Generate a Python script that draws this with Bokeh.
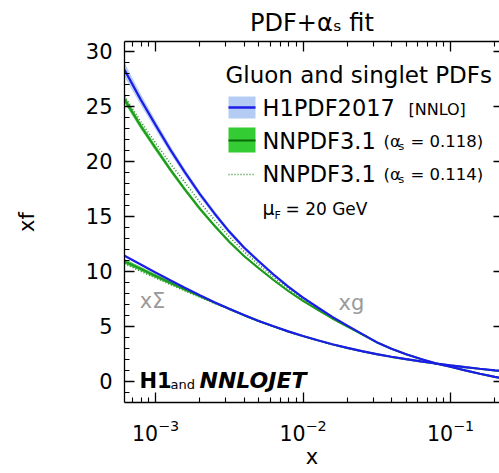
import numpy as np
from bokeh.plotting import figure
from bokeh.models import Range1d, LogAxis, LinearAxis, FixedTicker, Label, LogScale
from bokeh.embed import file_html
from bokeh.resources import INLINE

# ---------------- data ----------------
x_grid = [6.17e-4, 7.94e-4, 1.0e-3, 1.26e-3, 1.58e-3, 2.0e-3, 2.51e-3, 3.16e-3, 3.98e-3,
          5.01e-3, 6.31e-3, 7.94e-3, 1.0e-2, 1.26e-2, 1.58e-2, 2.0e-2, 2.51e-2, 3.16e-2,
          3.98e-2, 5.01e-2, 6.31e-2, 7.94e-2, 0.1, 0.126, 0.158, 0.2, 0.215]

h1_gluon = [28.3, 25.6, 23.3, 21.05, 19.0, 17.0, 15.25, 13.6, 12.15,
            10.9, 9.7, 8.6, 7.6, 6.7, 5.85, 5.05, 4.3, 3.55,
            2.95, 2.45, 2.02, 1.62, 1.31, 0.98, 0.68, 0.40, 0.32]
h1_gluon_err = [0.65, 0.5, 0.42, 0.36, 0.31, 0.27, 0.24, 0.21, 0.19,
                0.17, 0.15, 0.13, 0.12, 0.11, 0.1, 0.09, 0.08, 0.07,
                0.06, 0.06, 0.05, 0.05, 0.05, 0.05, 0.05, 0.05, 0.05]
nn118_gluon = [25.6, 23.2, 21.2, 19.24, 17.44, 15.67, 14.14, 12.68, 11.38,
               10.27, 9.2, 8.2, 7.3, 6.48, 5.7, 4.96, 4.26, 3.53,
               2.94, 2.44, 2.01, 1.61, 1.30, 0.97, 0.67, 0.39, 0.31]
nn118_gluon_err = [0.32, 0.28, 0.25, 0.22, 0.2, 0.18, 0.16, 0.14, 0.12,
                   0.11, 0.1, 0.09, 0.08, 0.07, 0.06, 0.05, 0.05, 0.04,
                   0.04, 0.03, 0.03, 0.03, 0.03, 0.03, 0.03, 0.03, 0.03]
nn114_gluon = [25.9, 23.6, 21.67, 19.79, 18.09, 16.27, 14.67, 13.14, 11.79,
               10.59, 9.46, 8.41, 7.45, 6.58, 5.76, 5.0, 4.28, 3.55,
               2.95, 2.45, 2.02, 1.62, 1.31, 0.98, 0.68, 0.40, 0.32]

h1_singlet = [11.4, 10.61, 9.89, 9.18, 8.49, 7.82, 7.18, 6.58, 6.01,
              5.48, 4.99, 4.53, 4.11, 3.72, 3.36, 3.03, 2.73, 2.46,
              2.22, 2.0, 1.80, 1.61, 1.44, 1.28, 1.13, 0.99, 0.95]
nn118_singlet = [10.9, 10.21, 9.57, 8.95, 8.34, 7.73, 7.14, 6.57, 6.0,
                 5.47, 4.98, 4.52, 4.1, 3.71, 3.35, 3.02, 2.72, 2.45,
                 2.21, 1.99, 1.79, 1.6, 1.43, 1.27, 1.12, 0.98, 0.94]
nn118_singlet_err = [0.22, 0.2, 0.18, 0.16, 0.14, 0.12, 0.11, 0.1, 0.09,
                     0.08, 0.07, 0.06, 0.06, 0.05, 0.05, 0.04, 0.04, 0.04,
                     0.03, 0.03, 0.03, 0.03, 0.03, 0.03, 0.03, 0.03, 0.03]
nn114_singlet = [10.7, 10.0, 9.4, 8.8, 8.22, 7.65, 7.09, 6.54, 5.99,
                 5.46, 4.97, 4.51, 4.09, 3.7, 3.34, 3.01, 2.71, 2.44,
                 2.2, 1.98, 1.78, 1.59, 1.42, 1.26, 1.11, 0.97, 0.93]

x_major_ticks = [1e-3, 1e-2, 1e-1]
y_major_ticks = [0, 5, 10, 15, 20, 25, 30]

# ---------------- layout calibration ----------------
W, H = 499, 473
FL, FR, FT, FB = 124, 499, 41, 402
FONT = "DejaVu Sans"
BLUE = "#1c1ce8"
BLUE_BAND = "#b4cbf3"
GREEN = "#1f9a1f"
GREEN_BAND = "#3fca3f"
GREEN_DOT = "#2b8f2b"


def px_to_x(px):
    return 10 ** (-3 + (px - 155) / 147.5)


def py_to_y(py):
    return (380.7 - py) / 11.0


x0, x1 = px_to_x(FL), px_to_x(FR)
y0, y1 = py_to_y(FB), py_to_y(FT)

p = figure(width=W, height=H, x_axis_type=None, y_axis_type=None,
           x_range=Range1d(x0, x1), y_range=Range1d(y0, y1),
           output_backend="svg", toolbar_location=None,
           min_border_left=FL, min_border_right=0,
           min_border_top=FT, min_border_bottom=H - FB,
           title="PDF+αₛ fit")
p.x_scale = LogScale()
p.outline_line_color = None
p.background_fill_color = "white"
p.border_fill_color = "white"
p.title.text_font = FONT
p.title.text_font_size = "24px"
p.title.text_font_style = "normal"
p.title.text_color = "black"
p.title.align = "center"
p.title.standoff = 10
p.title.offset = 0

minor_x = [m * 10.0 ** e for e in (-4, -3, -2, -1) for m in range(2, 10)]
minor_y = [v for v in range(-1, 31) if v % 5 != 0]


def style_axis(ax, labels=True, tick_in=10, minor_in=5):
    ax.axis_line_color = "black"
    ax.axis_line_width = 1.3
    ax.major_tick_in = tick_in
    ax.major_tick_out = 0
    ax.minor_tick_in = minor_in
    ax.minor_tick_out = 0
    ax.major_tick_line_width = 1.3
    ax.minor_tick_line_width = 1.1
    ax.major_label_text_font = FONT
    ax.major_label_text_font_size = "20.5px"
    ax.major_label_text_color = "black"
    ax.axis_label_text_font = FONT
    ax.axis_label_text_font_size = "21px"
    ax.axis_label_text_font_style = "normal"
    ax.axis_label_text_color = "black"
    if not labels:
        ax.major_label_text_font_size = "0px"
        ax.major_label_text_alpha = 0
        ax.major_label_standoff = 0


xb = LogAxis(ticker=FixedTicker(ticks=x_major_ticks, minor_ticks=minor_x), axis_label="x")
style_axis(xb)
xb.major_label_standoff = 16
xb.axis_label_standoff = 1
p.add_layout(xb, "below")

xt = LogAxis(ticker=FixedTicker(ticks=x_major_ticks, minor_ticks=minor_x))
style_axis(xt, labels=False)
p.add_layout(xt, "above")

yl = LinearAxis(ticker=FixedTicker(ticks=y_major_ticks, minor_ticks=minor_y), axis_label="xf")
style_axis(yl)
yl.major_label_text_font_size = "21px"
yl.major_label_standoff = 12
yl.axis_label_standoff = 44
p.add_layout(yl, "left")

yr = LinearAxis(ticker=FixedTicker(ticks=y_major_ticks, minor_ticks=minor_y))
style_axis(yr, labels=False, tick_in=6, minor_in=0)
yr.axis_line_color = None
p.add_layout(yr, "right")

# ---------------- curves ----------------
xg = np.array(x_grid)
g_nn = np.array(nn118_gluon)
g_nne = np.array(nn118_gluon_err)
g_h1 = np.array(h1_gluon)
g_h1e = np.array(h1_gluon_err)
s_nn = np.array(nn118_singlet)
s_nne = np.array(nn118_singlet_err)

p.varea(x=xg, y1=g_h1 - g_h1e, y2=g_h1 + g_h1e, fill_color=BLUE_BAND, fill_alpha=0.9)
p.varea(x=xg, y1=g_nn - g_nne, y2=g_nn + g_nne, fill_color=GREEN_BAND, fill_alpha=0.9)
p.varea(x=xg, y1=s_nn - s_nne, y2=s_nn + s_nne, fill_color=GREEN_BAND, fill_alpha=0.9)

p.line(x_grid, nn114_gluon, line_color=GREEN_DOT, line_width=1.6, line_dash="1 2")
p.line(x_grid, nn114_singlet, line_color=GREEN_DOT, line_width=1.8, line_dash="1 2")
p.line(x_grid, nn118_gluon, line_color=GREEN, line_width=2)
p.line(x_grid, nn118_singlet, line_color=GREEN, line_width=2)
p.line(x_grid, h1_gluon, line_color=BLUE, line_width=2.2)
p.line(x_grid, h1_singlet, line_color=BLUE, line_width=2.2)


# ---------------- texts ----------------
def lbl(text, px, py, size, style="normal", color="black", align="left"):
    p.add_layout(Label(x=px_to_x(px), y=py_to_y(py), text=text, text_font=FONT,
                       text_font_size=f"{size}px", text_font_style=style,
                       text_color=color, text_align=align, text_baseline="middle"))


# legend
lbl("Gluon and singlet PDFs", 225, 74, 23)
lbl("H1PDF2017", 262, 107, 22.5)
lbl("[NNLO]", 408, 109, 16)
for py, a in ((140, "0.118"), (173, "0.114")):
    lbl("NNPDF3.1", 262, py, 22.5)
    lbl("(α", 383, py + 1, 16.5)
    lbl("s", 398, py + 6, 11)
    lbl(f"= {a})", 410, py + 1, 16.5)
lbl("μ", 262, 207, 19)
lbl("F", 274, 215, 11)
lbl("= 20 GeV", 285, 208, 17)

# swatches
p.quad(left=[px_to_x(228)], right=[px_to_x(255)], bottom=[py_to_y(118)], top=[py_to_y(96)],
       fill_color=BLUE_BAND, line_color=None)
p.line([px_to_x(228), px_to_x(255)], [py_to_y(107)] * 2, line_color=BLUE, line_width=2.5)
p.quad(left=[px_to_x(228)], right=[px_to_x(255)], bottom=[py_to_y(152)], top=[py_to_y(127)],
       fill_color="#33cc33", line_color=None)
p.line([px_to_x(228), px_to_x(255)], [py_to_y(140)] * 2, line_color="#0a6a0a", line_width=2)
p.line([px_to_x(228), px_to_x(255)], [py_to_y(174)] * 2, line_color=GREEN_DOT, line_width=1.6,
       line_dash="1 2")

# curve names
lbl("xΣ", 152, 300, 21, color="#9a9a9a", align="center")
lbl("xg", 351, 302, 21, color="#9a9a9a", align="center")

# H1 and NNLOJET
lbl("H1", 139, 380, 21, style="bold")
lbl("and", 170, 384, 13)
lbl("NNLOJET", 199, 380, 22, style="bold italic")

open("out.html", "w").write(file_html(p, INLINE))
